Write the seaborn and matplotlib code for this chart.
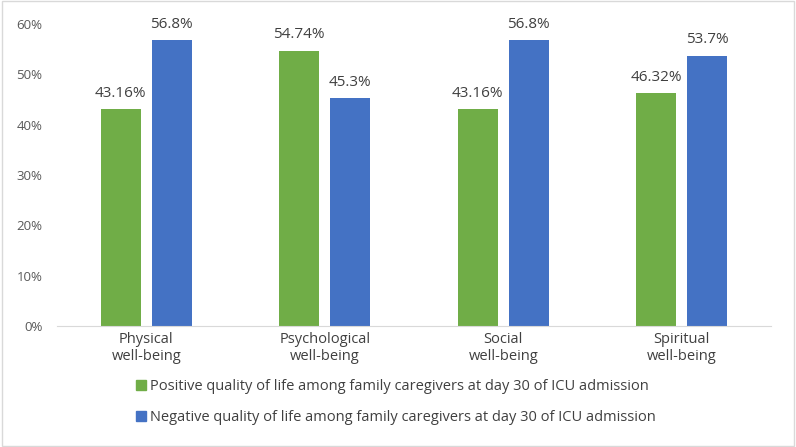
import matplotlib
matplotlib.use("Agg")
import matplotlib.pyplot as plt
import seaborn as sns
import pandas as pd
from matplotlib.patches import Rectangle

categories = ["Physical\nwell-being", "Psychological\nwell-being",
              "Social\nwell-being", "Spiritual\nwell-being"]
positive = [43.16, 54.74, 43.16, 46.32]
negative = [56.8, 45.3, 56.8, 53.7]
positive_labels = ["43.16%", "54.74%", "43.16%", "46.32%"]
negative_labels = ["56.8%", "45.3%", "56.8%", "53.7%"]
series = ["Positive quality of life among family caregivers at day 30 of ICU admission",
          "Negative quality of life among family caregivers at day 30 of ICU admission"]
colors = ["#70AD47", "#4472C4"]

df = pd.DataFrame({
    "cat": categories * 2,
    "val": [v / 100 for v in positive + negative],
    "series": [series[0]] * 4 + [series[1]] * 4,
})

sns.set_style("white")
plt.rcParams["font.family"] = ["Open Sans", "DejaVu Sans"]

fig = plt.figure(figsize=(7.96, 4.47), dpi=100)
ax = fig.add_axes([0.0716, 0.2707, 0.897, 0.6753])
sns.barplot(data=df, x="cat", y="val", hue="series", palette=colors,
            width=0.572, gap=0.217, ax=ax, legend=False, saturation=1,
            linewidth=0)

ax.set_ylim(0, 0.6)
ax.set_xlim(-0.5, 3.5)
ax.set_yticks([0, 0.1, 0.2, 0.3, 0.4, 0.5, 0.6])
ax.set_yticklabels([f"{int(t*100)}%" for t in ax.get_yticks()])
ax.tick_params(axis="y", length=0, labelsize=9.5, colors="#595959", pad=10.5)
ax.tick_params(axis="x", length=0, labelsize=10.5, colors="#404040", pad=4.5)
ax.set_xlabel("")
ax.set_ylabel("")
for s in ["top", "right", "left"]:
    ax.spines[s].set_visible(False)
ax.spines["bottom"].set_color("#D9D9D9")

for cont, labs in zip(ax.containers, [positive_labels, negative_labels]):
    ax.bar_label(cont, labels=labs, padding=6, fontsize=11, color="#404040")

handles = [Rectangle((0, 0), 1, 1, color=c) for c in colors]
fig.legend(handles, series, loc="upper left", bbox_to_anchor=(0.163, 0.165),
           frameon=False, fontsize=10.5, labelcolor="#404040",
           handlelength=0.7, handleheight=0.7, handletextpad=0.3,
           labelspacing=1.08, borderaxespad=0)

fig.patches.append(Rectangle((0.002, 0.003), 0.996, 0.994, transform=fig.transFigure,
                             fill=False, edgecolor="#D9D9D9", linewidth=1))

fig.savefig("out.png", dpi=100)
